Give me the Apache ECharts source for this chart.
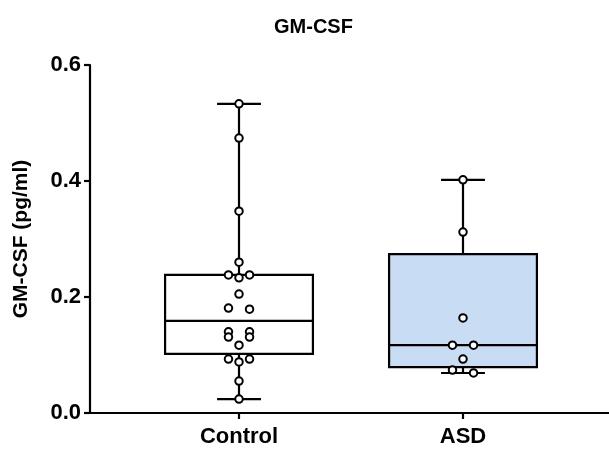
<!DOCTYPE html>
<html>
<head>
<meta charset="utf-8">
<script src="https://cdn.jsdelivr.net/npm/echarts@6/dist/echarts.min.js"></script>
<style>html,body{margin:0;padding:0;background:#fff;}#c{width:609px;height:450px;}</style>
</head>
<body>
<div id="c"></div>
<script>
// ---- data ----
const categories = ['Control', 'ASD'];
const controlValues = [0.533, 0.474, 0.348, 0.260, 0.238, 0.233, 0.238, 0.205, 0.181, 0.179,
  0.140, 0.140, 0.131, 0.131, 0.117, 0.093, 0.088, 0.093, 0.055, 0.024];
const asdValues = [0.402, 0.312, 0.164, 0.117, 0.117, 0.093, 0.074, 0.069];
// box stats: [min, Q1, median, Q3, max]
const controlBox = [0.024, 0.102, 0.159, 0.238, 0.533];
const asdBox = [0.069, 0.079, 0.117, 0.274, 0.402];
const yTicks = [0.0, 0.2, 0.4, 0.6];
const boxColors = ['#ffffff', '#c8dcf4'];

const groups = [controlValues, asdValues];
const boxes = [controlBox, asdBox];

// simple beeswarm: cluster close values and spread them horizontally
const STEP = 0.047;   // horizontal spacing in category units
const THR = 0.007;    // vertical closeness threshold
function swarm(vals, center) {
  const sorted = vals.slice().sort((a, b) => b - a);
  const clusters = [];
  let cur = [];
  sorted.forEach(v => {
    if (cur.length && Math.abs(cur[cur.length - 1] - v) > THR) { clusters.push(cur); cur = []; }
    cur.push(v);
  });
  if (cur.length) clusters.push(cur);
  const out = [];
  clusters.forEach(c => {
    const n = c.length;
    let ordered = c.slice();
    if (n % 2 === 1 && n > 1) {
      const low = ordered.pop();
      ordered.splice((n - 1) / 2, 0, low);
    }
    ordered.forEach((v, i) => {
      let off;
      if (n % 2 === 1) off = (i - (n - 1) / 2) * STEP;
      else { const k = Math.floor(i / 2) + 1; off = (i % 2 === 0 ? -1 : 1) * k * STEP; }
      out.push([center + off, v]);
    });
  });
  return out;
}

const pointData = [];
groups.forEach((g, i) => swarm(g, i + 1).forEach(p => pointData.push(p)));
const boxData = boxes.map((b, i) => [i + 1].concat(b));

const FONT = 'Liberation Sans, Arial, sans-serif';
const chart = echarts.init(document.getElementById('c'), null, { renderer: 'canvas' });
chart.setOption({
  animation: false,
  backgroundColor: '#fff',
  title: {
    text: 'GM-CSF', left: 269, top: 12,
    textStyle: { fontFamily: FONT, fontWeight: 'bold', fontSize: 20, color: '#000' }
  },
  grid: { left: 90, right: 0, top: 65, bottom: 37, containLabel: false },
  xAxis: {
    type: 'value', min: 0.3348, max: 2.6518,
    splitLine: { show: false },
    axisLine: { show: true, onZero: false, lineStyle: { color: '#000', width: 2.2 } },
    axisTick: { show: true, customValues: [1, 2], length: 6, lineStyle: { color: '#000', width: 2.2 } },
    axisLabel: {
      customValues: [1, 2], margin: 13,
      formatter: v => categories[Math.round(v) - 1] || '',
      fontFamily: FONT, fontWeight: 'bold', fontSize: 22, color: '#000'
    }
  },
  yAxis: {
    type: 'value', min: 0, max: 0.6, interval: 0.2,
    name: 'GM-CSF (pg/ml)', nameLocation: 'middle', nameGap: 58, nameRotate: 90,
    nameTextStyle: { fontFamily: FONT, fontWeight: 'bold', fontSize: 21, color: '#000' },
    splitLine: { show: false },
    axisLine: { show: true, lineStyle: { color: '#000', width: 2.2 } },
    axisTick: { show: true, length: 6, lineStyle: { color: '#000', width: 2.2 } },
    axisLabel: {
      margin: 9, formatter: v => v.toFixed(1),
      fontFamily: FONT, fontWeight: 'bold', fontSize: 22, color: '#000'
    }
  },
  series: [
    {
      type: 'custom',
      data: boxData,
      z: 2,
      renderItem: function (params, api) {
        const x = api.value(0);
        const idx = params.dataIndex;
        const unit = api.size([1, 0])[0];
        const hw = unit * 0.33, cw = unit * 0.098;
        const pMin = api.coord([x, api.value(1)]);
        const pQ1 = api.coord([x, api.value(2)]);
        const pMed = api.coord([x, api.value(3)]);
        const pQ3 = api.coord([x, api.value(4)]);
        const pMax = api.coord([x, api.value(5)]);
        const ls = { stroke: '#000', lineWidth: 2.2 };
        return {
          type: 'group',
          children: [
            { type: 'line', shape: { x1: pMax[0], y1: pMax[1], x2: pQ3[0], y2: pQ3[1] }, style: ls },
            { type: 'line', shape: { x1: pQ1[0], y1: pQ1[1], x2: pMin[0], y2: pMin[1] }, style: ls },
            { type: 'line', shape: { x1: pMax[0] - cw, y1: pMax[1], x2: pMax[0] + cw, y2: pMax[1] }, style: ls },
            { type: 'line', shape: { x1: pMin[0] - cw, y1: pMin[1], x2: pMin[0] + cw, y2: pMin[1] }, style: ls },
            { type: 'rect', shape: { x: pQ3[0] - hw, y: pQ3[1], width: hw * 2, height: pQ1[1] - pQ3[1] },
              style: { fill: boxColors[idx], stroke: '#000', lineWidth: 2.2 } },
            { type: 'line', shape: { x1: pMed[0] - hw, y1: pMed[1], x2: pMed[0] + hw, y2: pMed[1] }, style: ls }
          ]
        };
      }
    },
    {
      type: 'scatter',
      data: pointData,
      z: 5,
      symbol: 'circle',
      symbolSize: 7.5,
      itemStyle: { color: '#fff', borderColor: '#000', borderWidth: 2, opacity: 1 }
    }
  ]
});
</script>
</body>
</html>
